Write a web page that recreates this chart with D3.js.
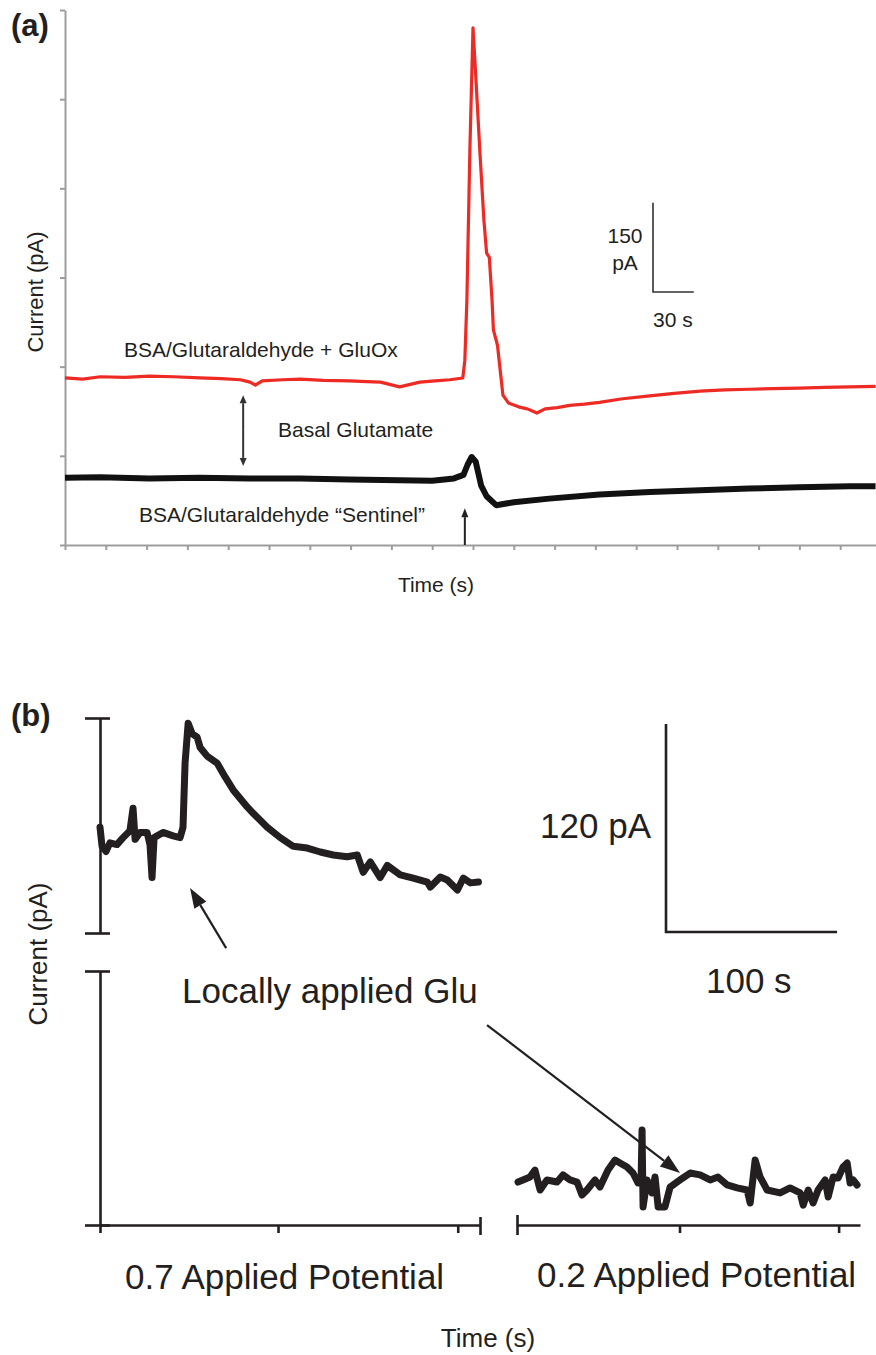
<!DOCTYPE html>
<html>
<head>
<meta charset="utf-8">
<script src="https://cdn.jsdelivr.net/npm/d3@7"></script>
<style>
  html, body { margin: 0; padding: 0; background: #fff; }
  svg { display: block; }
  text { font-family: "Liberation Sans", Arial, sans-serif; fill: #231f20; }
</style>
</head>
<body>
<svg id="chart" width="876" height="1355"></svg>
<script>
// ---------------- DATA ----------------
// Panel (a): time (s) vs current (pA)
const aXTicks = [0,30,60,90,120,150,180,210,240,270,300,330,360,390,420,450,480,510,540,570,600];
const aYTicks = [0,150,300,450,600,750,900];
const gluOxTrace = [
  [0,281],[13,279],[26,283],[44,282],[62,284],[80,283],[99,281],[115,280],[129,278],[136,274],
  [140,269],[145,276],[160,278],[173,279],[190,277],[209,276],[222,275],[232,274],[246,266],
  [261,274],[272,276],[283,278],[292.5,281],[294,311],[295.5,412],
  [297.7,664],[300,870],[302,790],[305,664],[308,547],[310,491],[312,484],[314,412],
  [315,362],[318,336],[320,294],[322,252],[326,239],[334,232],[340,229],[347,222],[353,229],
  [362,231],[371,235],[382,237],[393,240],[410,246],[430,251],[448,255],[467,259],[485,261],
  [503,262],[520,263],[540,264],[558,265],[577,266],[596,267]
];
const sentinelTrace = [
  [0,113],[26,114],[62,112],[99,113],[136,112],[173,112],[209,110],[246,109],[270,108],
  [286,112],[293,118],[296,135],[299,148],[302,140],[306,100],[310,82],[317,67],[330,72],
  [356,78],[393,85],[430,89],[467,92],[503,95],[540,97],[577,99],[596,99]
];
// Panel (b)
const bLeftTicks = [0,104,209];
const bRightTicks = [0,95,188];
const potential07Trace = [
  [0,61],[1.2,50],[3.5,47],[5.8,52],[9.9,51],[13.5,55],[17.5,59],[19.3,72],[20.5,54],
  [23.4,58],[27.5,58],[29.2,51],[30.4,32],[31.6,55],[36.8,58],[42.7,56],[46.8,55],
  [48.5,61],[49.7,98],[51.5,121],[53.8,115],[56.7,113],[58.5,107],[62.6,102],[68.4,98],
  [73.1,90],[77.8,82.5],[86,72.7],[89.5,69],[97.7,61],[105.3,55],[112.9,50],[121.1,49],
  [128.7,46.7],[136.3,45],[144.4,44],[150.3,45],[153.8,35],[157.9,41],[163.7,32],
  [167.8,39],[175.4,33.5],[183,31.7],[191.2,29.4],[193,26.5],[198.8,32.3],[202.9,30.6],
  [208.8,24.8],[212.3,31.7],[216.4,28.9],[221.1,29.4]
];
const potential02Trace = [
  [0.6,24.8],[3.5,26],[7.6,27.7],[10.5,31.7],[13.5,20.2],[17.5,26],[23.4,24.8],[26.9,28.9],
  [31,26],[35.1,24.8],[38,17.3],[40.9,20.2],[45.6,26],[48.5,21.9],[53.2,31.7],[57.3,37.5],
  [60.2,35.8],[64.3,33.5],[67.8,30],[70.8,24.2],[72.5,24.2],[73.1,54.8],[73.7,10.4],
  [76,26],[78.9,18.5],[80.7,27.7],[82.5,10.4],[86.5,10.4],[89.5,21.9],[95.3,26],
  [101.2,30],[107,28.9],[112.9,26],[117.5,27.7],[122.8,23.1],[128.7,21.4],[134.5,20.2],
  [136.3,12.7],[139.2,37.5],[142.1,27.7],[146.2,20.2],[153.8,18.5],[159.6,21.4],
  [165.5,18.5],[167.3,11.5],[170.2,20.2],[173.1,12.7],[176,20.2],[180.1,26],[181.9,16.2],
  [184.8,27.7],[187.7,27.1],[190.6,33.5],[193,35.8],[194.7,24.2],[196.5,26],[198.8,23.1]
];
const scaleBarA = { pA: 150, s: 30 };
const scaleBarB = { pA: 120, s: 100 };

// ---------------- DRAW ----------------
const svg = d3.select("#chart");

function arrow(g, x1, y1, x2, y2, opts) {
  const len = opts.head, w = opts.hw;
  const ang = Math.atan2(y2 - y1, x2 - x1);
  const bx = x2 - len * Math.cos(ang), by = y2 - len * Math.sin(ang);
  g.append("line").attr("x1", x1).attr("y1", y1).attr("x2", bx).attr("y2", by)
    .attr("stroke", opts.color).attr("stroke-width", opts.sw);
  const px = -Math.sin(ang) * w, py = Math.cos(ang) * w;
  g.append("path")
    .attr("d", `M${x2},${y2}L${bx + px},${by + py}L${bx - px},${by - py}Z`)
    .attr("fill", opts.color);
}

// ===== Panel (a) =====
const xA = d3.scaleLinear().domain([0, 600]).range([65, 881]);
const yA = d3.scaleLinear().domain([0, 900]).range([545, 10]);
const gA = svg.append("g");
const axisGrey = "#9d9d9d";

const yAxA = gA.append("g").attr("transform", `translate(${xA(0)},0)`)
  .call(d3.axisLeft(yA).tickValues(aYTicks).tickSize(5).tickSizeOuter(0).tickFormat(""));
const xAxA = gA.append("g").attr("transform", `translate(0,${yA(0)})`)
  .call(d3.axisBottom(xA).tickValues(aXTicks).tickSize(5).tickSizeOuter(0).tickFormat(""));
[yAxA, xAxA].forEach(ax => {
  ax.selectAll("path,line").attr("stroke", axisGrey).attr("stroke-width", 2);
});

const lineA = d3.line().x(d => xA(d[0])).y(d => yA(d[1]));
gA.append("path").datum(sentinelTrace).attr("d", lineA)
  .attr("fill", "none").attr("stroke", "#111").attr("stroke-width", 6)
  .attr("stroke-linejoin", "round");
gA.append("path").datum(gluOxTrace).attr("d", lineA)
  .attr("fill", "none").attr("stroke", "#ee2a24").attr("stroke-width", 3.2)
  .attr("stroke-linejoin", "round");

// double arrow (basal glutamate)
const dx = xA(131);
arrow(gA, dx, yA(195), dx, yA(252), { head: 8, hw: 3.5, color: "#333", sw: 2 });
arrow(gA, dx, yA(195), dx, yA(133), { head: 8, hw: 3.5, color: "#333", sw: 2 });
// application arrow
arrow(gA, xA(294), yA(0), xA(294), yA(62), { head: 9, hw: 3.5, color: "#222", sw: 2 });

// scale bar (a)
const sbAx = 653, sbAy = 292;
gA.append("path")
  .attr("d", `M${sbAx},${sbAy - (yA(0) - yA(scaleBarA.pA))}V${sbAy}H${sbAx + (xA(scaleBarA.s) - xA(0))}`)
  .attr("fill", "none").attr("stroke", "#333").attr("stroke-width", 1.6);
gA.append("text").attr("x", 625).attr("y", 243).attr("text-anchor", "middle")
  .attr("font-size", 21).text("150");
gA.append("text").attr("x", 625).attr("y", 270).attr("text-anchor", "middle")
  .attr("font-size", 21).text("pA");
gA.append("text").attr("x", 653).attr("y", 327).attr("font-size", 21).text("30 s");

gA.append("text").attr("x", 124).attr("y", 357).attr("font-size", 21)
  .text("BSA/Glutaraldehyde + GluOx");
gA.append("text").attr("x", 278).attr("y", 437).attr("font-size", 21)
  .text("Basal Glutamate");
gA.append("text").attr("x", 139).attr("y", 522).attr("font-size", 21)
  .text("BSA/Glutaraldehyde \u201cSentinel\u201d");
gA.append("text").attr("x", 436).attr("y", 592).attr("text-anchor", "middle")
  .attr("font-size", 21).text("Time (s)");
gA.append("text").attr("transform", "translate(43,292) rotate(-90)")
  .attr("text-anchor", "middle").attr("font-size", 22).text("Current (pA)");
gA.append("text").attr("x", 11).attr("y", 36).attr("font-size", 31)
  .attr("font-weight", "bold").text("(a)");

// ===== Panel (b) =====
const gB = svg.append("g");
const ink = "#231f20";
const yUp = d3.scaleLinear().domain([0, 124]).range([933, 718]);
const yLow = d3.scaleLinear().domain([0, 146.6]).range([1225, 971]);
const xL = d3.scaleLinear().domain([0, 222]).range([100, 480]);
const xR = d3.scaleLinear().domain([0, 200.5]).range([517, 860]);

function styleAxis(ax) {
  ax.select(".domain").attr("stroke", ink).attr("stroke-width", 2.6);
  ax.selectAll(".tick line").attr("stroke", ink).attr("stroke-width", 2.6);
}
// upper y axis
const axUp = gB.append("g").attr("transform", `translate(${xL(0)},0)`)
  .call(d3.axisLeft(yUp).tickValues([0, 124]).tickSize(15).tickSizeOuter(0).tickFormat(""));
axUp.selectAll(".tick line").attr("x1", 10);
styleAxis(axUp);
// lower y axis
const axLow = gB.append("g").attr("transform", `translate(${xL(0)},0)`)
  .call(d3.axisLeft(yLow).tickValues([0, 146.6]).tickSize(15).tickSizeOuter(0).tickFormat(""));
axLow.selectAll(".tick line").attr("x1", 10);
styleAxis(axLow);
// left x axis
const axXL = gB.append("g").attr("transform", `translate(0,${yLow(0)})`)
  .call(d3.axisBottom(xL).tickValues(bLeftTicks).tickSize(8).tickSizeOuter(0).tickFormat(""));
styleAxis(axXL);
const capL = gB.append("g").attr("transform", `translate(0,${yLow(0)})`)
  .call(d3.axisBottom(xL).tickValues([222]).tickSize(10).tickSizeOuter(0).tickFormat(""));
capL.select(".domain").remove();
capL.selectAll(".tick line").attr("y1", -8);
styleAxis(capL);
// right x axis
const axXR = gB.append("g").attr("transform", `translate(0,${yLow(0)})`)
  .call(d3.axisBottom(xR).tickValues(bRightTicks.slice(1)).tickSize(8).tickSizeOuter(0).tickFormat(""));
styleAxis(axXR);
const capR = gB.append("g").attr("transform", `translate(0,${yLow(0)})`)
  .call(d3.axisBottom(xR).tickValues([0]).tickSize(10).tickSizeOuter(0).tickFormat(""));
capR.select(".domain").remove();
capR.selectAll(".tick line").attr("y1", -10);
styleAxis(capR);

// traces
gB.append("path").datum(potential07Trace)
  .attr("d", d3.line().x(d => xL(d[0])).y(d => yUp(d[1])))
  .attr("fill", "none").attr("stroke", ink).attr("stroke-width", 7)
  .attr("stroke-linejoin", "round").attr("stroke-linecap", "round");
gB.append("path").datum(potential02Trace)
  .attr("d", d3.line().x(d => xR(d[0])).y(d => yLow(d[1])))
  .attr("fill", "none").attr("stroke", ink).attr("stroke-width", 7)
  .attr("stroke-linejoin", "round").attr("stroke-linecap", "round");

// arrows
arrow(gB, xL(73.7), yUp(-8.7), xL(52.6), yUp(26), { head: 20, hw: 7, color: ink, sw: 2.2 });
arrow(gB, xR(-17.5), yLow(115.4), xR(95.3), yLow(30), { head: 20, hw: 7, color: ink, sw: 2.2 });

// scale bar (b)
const sbBx = 666, sbBy = 932;
gB.append("path")
  .attr("d", `M${sbBx},${sbBy - (yUp(0) - yUp(scaleBarB.pA))}V${sbBy}H${sbBx + (xR(scaleBarB.s) - xR(0))}`)
  .attr("fill", "none").attr("stroke", ink).attr("stroke-width", 2.6);
gB.append("text").attr("x", 651).attr("y", 838).attr("text-anchor", "end")
  .attr("font-size", 35).text("120 pA");
gB.append("text").attr("x", 706).attr("y", 993).attr("font-size", 35).text("100 s");

gB.append("text").attr("x", 182).attr("y", 1003).attr("font-size", 35)
  .text("Locally applied Glu");
gB.append("text").attr("x", 125).attr("y", 1289).attr("font-size", 35)
  .text("0.7 Applied Potential");
gB.append("text").attr("x", 537).attr("y", 1287).attr("font-size", 35)
  .text("0.2 Applied Potential");
gB.append("text").attr("x", 488).attr("y", 1347).attr("text-anchor", "middle")
  .attr("font-size", 26).text("Time (s)");
gB.append("text").attr("transform", "translate(47,954) rotate(-90)")
  .attr("text-anchor", "middle").attr("font-size", 26).text("Current (pA)");
gB.append("text").attr("x", 11).attr("y", 726).attr("font-size", 31)
  .attr("font-weight", "bold").text("(b)");
</script>
</body>
</html>
